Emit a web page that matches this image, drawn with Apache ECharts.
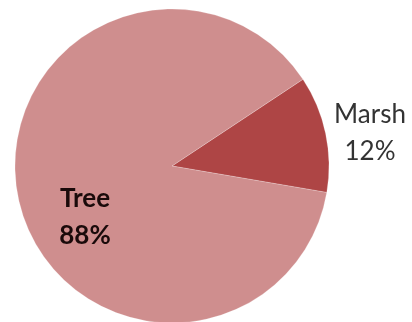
<!DOCTYPE html>
<html>
<head>
<meta charset="utf-8">
<script src="https://cdn.jsdelivr.net/npm/echarts@6/dist/echarts.min.js"></script>
<style>html,body{margin:0;padding:0;background:#fff;}#c{width:412px;height:322px;}</style>
</head>
<body>
<div id="c"></div>
<script>
const categories = ["Marsh", "Tree"];
const values = [12, 88];
const colors = ["#ae4545", "#cf8e8e"];

const chart = echarts.init(document.getElementById('c'), null, {renderer: 'canvas'});
const labelPos = [
  {x: 370, y: 133},
  {x: 85, y: 217}
];
chart.setOption({
  animation: false,
  series: [{
    type: 'pie',
    center: [172, 166],
    radius: 157,
    startAngle: 33.5,
    clockwise: true,
    avoidLabelOverlap: false,
    data: categories.map((c, i) => ({
      name: c,
      value: values[i],
      itemStyle: {color: colors[i]},
      label: i === 1
        ? {position: 'inside', fontWeight: 'bold', color: '#1a0a0a'}
        : {position: 'outside', fontWeight: 'normal', color: '#333'}
    })),
    itemStyle: {borderColor: 'rgba(255,255,255,0.35)', borderWidth: 0.6},
    label: {
      show: true,
      formatter: p => p.name + '\n' + Math.round(p.percent) + '%',
      fontFamily: 'Lato',
      fontSize: 26,
      lineHeight: 37,
      align: 'center',
      overflow: 'none',
      width: 200
    },
    labelLine: {show: false},
    labelLayout: function (params) {
      const p = labelPos[params.dataIndex];
      return {x: p.x, y: p.y, align: 'center', verticalAlign: 'middle', hideOverlap: false};
    }
  }]
});
</script>
</body>
</html>
